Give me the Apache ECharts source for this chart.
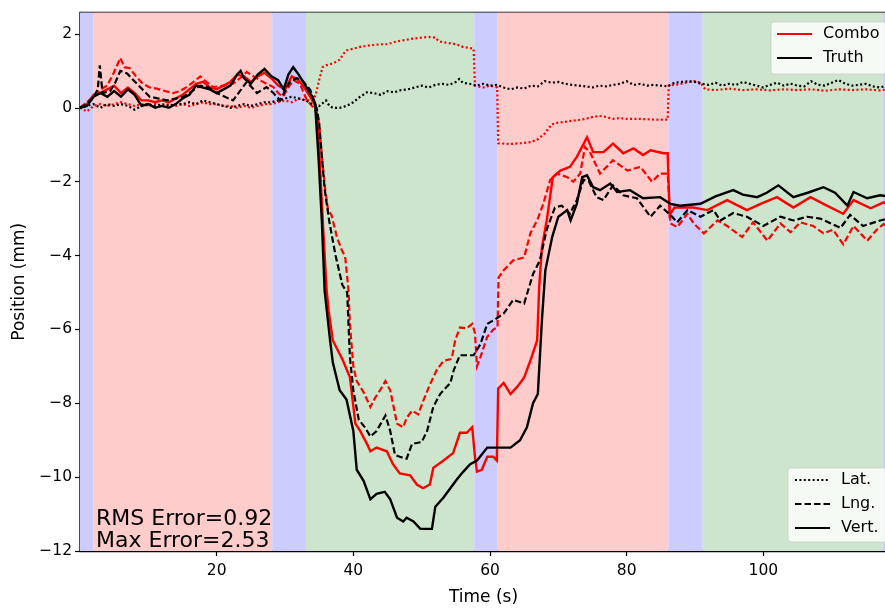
<!DOCTYPE html>
<html><head><meta charset="utf-8">
<script src="https://cdn.jsdelivr.net/npm/echarts@6/dist/echarts.min.js"></script>
<style>html,body{margin:0;padding:0;background:#fff}#c{width:885px;height:608px}</style>
</head><body><div id="c"></div>
<script>
// Background phases: [start, end, kind]
const phases = [[0,1.94,'b'],[1.94,28.14,'r'],[28.14,33.07,'b'],[33.07,57.7,'g'],[57.7,61.13,'b'],[61.13,86.1,'r'],[86.1,91.13,'b'],[91.13,117.48,'g'],[117.48,118.2,'b']];
const phaseColors = {r:'rgb(255,204,204)', b:'rgb(204,204,255)', g:'rgb(204,229,204)'};
const xTicks = [20, 40, 60, 80, 100];
const yTicks = [-12, -10, -8, -6, -4, -2, 0, 2];

// Combo (red) series: [time s, position mm]
const comboLat = [[0,0],[1,-0.1],[2,0.05],[3,0.1],[4,0.05],[5,0.1],[6,0.15],[7,0.1],[8,0.05],[9,0.1],[10,0.05],[11,0.1],[12,0.05],[13,0.1],[14,0.05],[15,0.1],[16,0.05],[17,0.1],[18,0.15],[19,0.1],[20,0.1],[21,0.05],[22,0.05],[23,0.0],[24,0.05],[25,0.0],[26,0.05],[27,0.1],[28,0.1],[29,0.15],[30,0.2],[31,0.15],[32,0.25],[33,0.2],[34,0.2],[34.5,0.35],[35,0.75],[35.5,1.1],[36,1.15],[37,1.2],[38,1.3],[38.5,1.45],[39,1.55],[40,1.6],[41,1.65],[42,1.68],[43,1.7],[44,1.72],[45,1.72],[46,1.78],[47,1.82],[48,1.85],[49,1.88],[50,1.9],[51,1.92],[52,1.9],[52.5,1.8],[53,1.78],[54,1.75],[55,1.72],[56,1.65],[57,1.62],[57.6,1.6],[57.8,0.6],[59,0.55],[60,0.6],[61.05,0.55],[61.2,-0.96],[63,-0.98],[65,-0.95],[66,-0.93],[67,-0.85],[68,-0.7],[69,-0.45],[70,-0.4],[71,-0.38],[72,-0.35],[73,-0.33],[74,-0.3],[75,-0.25],[76,-0.22],[77,-0.25],[78,-0.3],[79,-0.28],[80,-0.3],[82,-0.3],[84,-0.32],[86,-0.32],[86.15,0.6],[87,0.62],[88,0.65],[89,0.7],[90,0.72],[90.8,0.68],[91.5,0.5],[93,0.48],[95,0.52],[97,0.48],[99,0.5],[101,0.47],[103,0.5],[105,0.48],[107,0.5],[109,0.46],[111,0.5],[113,0.48],[115,0.5],[117,0.47],[118.2,0.5]];
const comboLng = [[0,0],[1,0.15],[2,0.3],[3,0.5],[4,0.6],[4.9,0.93],[5.9,1.35],[6.5,1.1],[7.3,1.07],[8.2,0.85],[9.2,0.65],[10.2,0.55],[11.2,0.52],[12.5,0.45],[13.6,0.4],[14.6,0.45],[15.6,0.56],[16.6,0.7],[17.6,0.85],[18.5,0.7],[19.5,0.56],[21,0.6],[22.4,0.65],[23.4,0.8],[24.4,0.97],[25.4,0.85],[26.3,0.75],[27.3,0.65],[28.3,0.56],[29,0.4],[29.7,0.3],[30.5,0.55],[31.2,0.75],[32.2,0.65],[33.2,0.2],[34.1,0.02],[34.7,-0.15],[35,-0.45],[35.4,-1.33],[35.9,-2.23],[36.3,-2.77],[36.8,-2.9],[37.6,-3.5],[38.3,-3.85],[38.8,-4.03],[39.3,-4.95],[39.5,-5.85],[40,-7.0],[40.5,-7.4],[41.5,-7.7],[42.5,-8.1],[43.2,-7.85],[43.9,-7.65],[44.7,-7.4],[45.4,-7.65],[46.4,-8.55],[47.3,-8.65],[47.8,-8.4],[48.6,-8.2],[49.5,-8.3],[50.2,-7.95],[51.2,-7.5],[52.2,-7.1],[53.2,-6.85],[54.4,-6.8],[54.9,-6.3],[55.6,-5.95],[56.6,-5.97],[57.4,-5.85],[57.8,-6.1],[58.1,-7.0],[58.6,-6.75],[59.6,-6.2],[60.5,-6.0],[61.1,-5.95],[61.25,-4.6],[62,-4.4],[63.4,-4.13],[65,-4.05],[65.9,-3.4],[66.9,-3.05],[67.8,-2.6],[68.8,-1.96],[69.8,-1.78],[71.3,-1.88],[72.2,-2.0],[73.2,-1.78],[73.9,-1.06],[74.7,-1.23],[76.1,-1.78],[78,-1.42],[80.1,-1.7],[82,-1.6],[83.7,-2.0],[84.9,-1.78],[86,-1.78],[86.4,-3.13],[87.4,-3.23],[88.9,-2.87],[89.8,-3.13],[91.3,-3.4],[93.3,-3.05],[94.7,-3.2],[96.9,-3.5],[98.5,-3.1],[100.6,-3.6],[102.5,-3.13],[104,-3.37],[105.4,-3.1],[107.3,-3.2],[108.8,-3.4],[110.2,-3.3],[111.7,-3.7],[113.2,-3.2],[115.2,-3.6],[116.6,-3.3],[117.6,-3.15],[118.2,-3.2]];
const comboVert = [[0,0],[1,0.1],[2,0.35],[3,0.4],[4,0.5],[5,0.6],[6,0.4],[7,0.55],[8,0.4],[9,0.2],[10,0.2],[11,0.15],[12,0.2],[13,0.15],[14,0.25],[15,0.35],[16,0.5],[17,0.65],[18,0.7],[19,0.55],[20,0.5],[21,0.6],[22,0.7],[23,0.9],[24,0.85],[25,0.7],[26,0.85],[27,0.95],[28,0.8],[29,0.6],[30,0.5],[31,0.85],[32,0.75],[33,0.5],[34,0.2],[34.6,0.0],[35.1,-1.5],[35.6,-3.3],[36.1,-4.95],[36.4,-5.5],[37,-6.3],[38.5,-6.85],[39.5,-7.3],[40.3,-8.55],[41,-8.75],[42,-9.1],[42.5,-9.3],[43.4,-9.2],[44.9,-9.3],[45.8,-9.65],[46.8,-9.9],[48.3,-9.95],[49.3,-10.2],[50.2,-10.3],[51.2,-10.2],[51.7,-9.75],[53.2,-9.55],[54.6,-9.35],[55.6,-8.8],[56.6,-8.8],[57.4,-8.65],[57.8,-9.45],[58.1,-9.85],[58.8,-9.8],[59.6,-9.45],[60.5,-9.45],[61,-9.55],[61.2,-7.6],[62,-7.45],[63,-7.75],[64,-7.55],[65,-7.3],[65.9,-6.85],[66.9,-6.3],[67.2,-4.85],[67.6,-3.78],[68.3,-3.05],[69.2,-1.88],[70.3,-1.7],[71.7,-1.6],[72.7,-1.33],[74.2,-0.8],[75.1,-1.2],[76.6,-1.2],[78,-0.97],[79.5,-1.23],[81,-1.1],[82.4,-1.28],[83.5,-1.15],[85.4,-1.23],[86,-1.23],[86.3,-2.9],[87,-2.7],[89.7,-2.7],[91.8,-2.77],[94.7,-2.5],[97.6,-2.77],[99.6,-2.6],[102,-2.42],[104.4,-2.7],[106.9,-2.42],[109.3,-2.65],[111.7,-2.87],[113.2,-2.5],[115.7,-2.72],[117.6,-2.56],[118.2,-2.6]];

// Truth (black) series
const truthLat = [[0,0],[1,0.05],[2,0.1],[3,0.0],[4,0.1],[5,0.05],[6,0.1],[7,0.05],[8,-0.05],[9,0.05],[10,0.1],[11,0.05],[12,0.1],[13,0.05],[14,0.1],[15,0.1],[16,0.15],[17,0.1],[18,0.2],[19,0.15],[20,0.1],[21,0.05],[22,0.0],[23,0.05],[24,0.1],[25,0.05],[26,0.1],[27,0.15],[28,0.15],[29,0.2],[30,0.25],[31,0.3],[32,0.25],[33,0.2],[34,0.1],[35,0.05],[36,0.2],[36.5,0.05],[37,0.0],[38,0.0],[39,0.05],[40,0.15],[41,0.3],[42,0.42],[43,0.4],[44,0.35],[45,0.45],[46,0.42],[47,0.48],[48,0.5],[49,0.55],[50,0.6],[51,0.55],[52,0.62],[53,0.65],[54,0.62],[55,0.7],[55.5,0.78],[56,0.68],[57,0.65],[58,0.6],[59,0.65],[60,0.6],[61,0.62],[62,0.55],[63,0.5],[64,0.55],[65,0.52],[66,0.6],[67,0.58],[68,0.72],[69,0.68],[70,0.7],[71,0.65],[72,0.62],[73,0.6],[74,0.58],[75,0.55],[76,0.6],[77,0.58],[78,0.62],[79,0.65],[80,0.72],[81,0.62],[82,0.65],[83,0.6],[84,0.62],[85,0.6],[86,0.58],[87,0.68],[88,0.7],[89,0.72],[90,0.7],[91,0.65],[92,0.62],[93,0.68],[94,0.6],[95,0.65],[96,0.62],[97,0.7],[98,0.65],[99,0.6],[100,0.55],[101,0.62],[102,0.68],[103,0.6],[104,0.65],[105,0.6],[106,0.58],[107,0.72],[108,0.62],[109,0.6],[110,0.68],[111,0.75],[112,0.65],[113,0.6],[114,0.62],[115,0.65],[116,0.58],[117,0.55],[118.2,0.6]];
const truthLng = [[0,0],[1,0.1],[2,0.3],[2.6,0.5],[2.9,1.15],[3.3,0.4],[4.4,0.45],[5.2,0.7],[5.9,1.0],[6.9,0.93],[7.8,0.75],[8.8,0.56],[10.2,0.3],[11.5,0.25],[12.7,0.2],[14,0.25],[15.1,0.3],[16.4,0.45],[17.6,0.6],[18.8,0.55],[20,0.4],[21.2,0.3],[22.4,0.2],[23.4,0.45],[24.4,0.7],[25.9,0.4],[27.3,0.56],[28.3,0.4],[29.3,0.2],[30.7,0.7],[31.7,0.8],[32.5,0.75],[33.7,0.48],[34.2,0.2],[34.7,-0.06],[35.0,-0.42],[35.4,-1.33],[35.8,-2.2],[36.5,-3.1],[37.4,-4.0],[38.4,-4.8],[39.1,-5.0],[39.5,-6.75],[40,-7.65],[40.8,-8.45],[41.7,-8.65],[42.5,-8.9],[43.4,-8.75],[44.7,-8.33],[45.4,-8.75],[46.1,-9.4],[46.8,-9.45],[47.8,-9.5],[48.6,-9.1],[50,-9.05],[50.8,-8.75],[51.7,-8.1],[52.7,-7.75],[54.2,-7.45],[54.7,-7.1],[55.6,-6.7],[57.6,-6.7],[58.6,-6.4],[59.6,-5.85],[61,-5.7],[62,-5.57],[63.4,-5.2],[65,-5.3],[66.3,-4.5],[67.3,-4.13],[68.3,-3.3],[69.5,-2.7],[70.5,-2.65],[71.7,-2.87],[72.7,-2.5],[73.7,-1.95],[74.5,-2.0],[75.6,-2.42],[76.6,-2.5],[78,-2.1],[79.5,-2.37],[81.5,-2.45],[83.5,-2.95],[84.9,-2.65],[86.4,-2.9],[87.4,-3.1],[88.9,-2.77],[90.8,-2.95],[92.7,-2.77],[93.7,-3.05],[95.6,-2.85],[97.6,-2.95],[100,-3.2],[102.5,-2.95],[104.4,-3.05],[106.4,-2.95],[108.3,-3.0],[111.3,-3.25],[112.7,-2.9],[114.6,-3.2],[117.1,-3.05],[118.2,-3.0]];
const truthVert = [[0,0],[1,0.05],[2,0.3],[3,0.4],[4,0.3],[5,0.45],[6,0.3],[7,0.5],[8,0.35],[9,0.05],[10,0.1],[11,0.0],[12,0.05],[13,0.0],[14,0.1],[15,0.25],[16,0.35],[17,0.6],[18,0.55],[19,0.5],[20,0.4],[21,0.5],[22,0.6],[23,0.9],[23.5,1.0],[24,0.8],[25,0.65],[26,0.9],[27,1.05],[28,0.85],[29,0.75],[29.8,0.5],[30.5,0.9],[31.2,1.1],[32,0.9],[33,0.6],[34,0.3],[34.4,0.12],[34.9,-1.33],[35.4,-3.1],[35.8,-4.95],[36.6,-6.3],[37,-6.9],[38,-7.65],[39,-7.9],[40,-8.75],[40.5,-9.8],[41.5,-10.1],[42.5,-10.6],[43.4,-10.45],[44.6,-10.4],[45.4,-10.6],[46.4,-11.1],[47.3,-11.2],[47.8,-11.1],[48.8,-11.2],[49.8,-11.4],[50.8,-11.4],[51.5,-11.4],[52,-10.8],[53.2,-10.55],[54.2,-10.3],[55.2,-10.05],[56.1,-9.85],[57.1,-9.65],[58.1,-9.55],[59.6,-9.2],[61,-9.2],[63,-9.2],[64.4,-9.0],[65.4,-8.65],[66.3,-8.0],[67,-7.75],[67.6,-5.75],[68.1,-4.4],[69.1,-3.5],[70,-2.95],[71.3,-2.77],[71.8,-3.05],[72.7,-2.6],[73.5,-1.88],[74.2,-1.83],[75.1,-2.15],[76.1,-2.23],[77.6,-2.05],[78.6,-2.28],[80.5,-2.23],[82.4,-2.45],[84.9,-2.42],[86.4,-2.6],[87.8,-2.65],[90.8,-2.6],[93,-2.4],[95.6,-2.23],[97,-2.35],[99.1,-2.42],[100.5,-2.3],[102.2,-2.1],[104.4,-2.42],[106.5,-2.3],[108.8,-2.15],[110.5,-2.3],[112.3,-2.65],[113.2,-2.28],[115.2,-2.45],[117.1,-2.37],[118.2,-2.4]];

const errorTexts = ['RMS Error=0.92', 'Max Error=2.53'];

const FONT = 'DejaVu Sans';
const DOT = [2, 2.4], DASH = [6.5, 3];
const chart = echarts.init(document.getElementById('c'), null, {renderer: 'canvas'});
function line(name, data, color, type, width, z) {
  return {name, type: 'line', data, symbol: 'none', showSymbol: false, silent: true, animation: false, z,
    lineStyle: {color, type, width, cap: 'butt', join: 'miter'}, itemStyle: {color}};
}
const minus = v => (Math.abs(v) < 1e-9 ? '0' : (v < 0 ? '\u2212' + Math.abs(v) : String(v)));
const bandSeries = {type: 'line', data: [[0, 0]], symbol: 'none', silent: true, z: 1, lineStyle: {width: 0}, animation: false,
  markArea: {silent: true, z: 1, data: phases.map(p => [{xAxis: p[0], itemStyle: {color: phaseColors[p[2]], opacity: 1}}, {xAxis: p[1]}])}};
const legendBox = {orient: 'vertical', itemWidth: 35, itemHeight: 16, itemGap: 8, backgroundColor: 'rgba(255,255,255,0.8)',
  borderColor: 'rgba(204,204,204,0.8)', borderWidth: 1, borderRadius: 3, selectedMode: false,
  itemStyle: {opacity: 0},
  textStyle: {fontFamily: FONT, fontSize: 16, color: '#000', padding: [0, 0, 0, 6]}};
chart.setOption({
  animation: false,
  grid: {left: 80, right: -2, top: 12.5, bottom: 57, outerBoundsMode: 'none', show: true, borderColor: '#000', borderWidth: 1.3, backgroundColor: 'transparent'},
  xAxis: {type: 'value', min: 0, max: 118.1, name: 'Time (s)', nameLocation: 'middle', nameGap: 38,
    nameTextStyle: {fontFamily: FONT, fontSize: 17, color: '#000'},
    axisLine: {show: true, onZero: false, lineStyle: {color: '#000', width: 1.3}},
    axisTick: {show: true, inside: false, length: 5, customValues: xTicks, lineStyle: {color: '#000', width: 1.2}},
    axisLabel: {fontFamily: FONT, fontSize: 15.5, color: '#000', margin: 12, customValues: xTicks, formatter: minus},
    splitLine: {show: false}},
  yAxis: {type: 'value', min: -12, max: 2.58, name: 'Position (mm)', nameLocation: 'middle', nameGap: 52,
    nameTextStyle: {fontFamily: FONT, fontSize: 17, color: '#000'},
    axisLine: {show: true, onZero: false, lineStyle: {color: '#000', width: 1.3}},
    axisTick: {show: true, inside: false, length: 5, customValues: yTicks, lineStyle: {color: '#000', width: 1.2}},
    axisLabel: {show: false},
    splitLine: {show: false}},
  legend: [
    Object.assign({}, legendBox, {data: ['Combo', 'Truth'], left: 771, top: 22, padding: [4, 30, 8, 5]}),
    Object.assign({}, legendBox, {data: ['Lat.', 'Lng.', 'Vert.'], left: 788, top: 468, padding: [4, 30, 6, 6]})
  ],
  series: [
    bandSeries,
    line('Combo Lat', comboLat, '#ff0000', DOT, 2.2, 3),
    line('Combo Lng', comboLng, '#ff0000', DASH, 2.2, 3),
    line('Combo Vert', comboVert, '#ff0000', 'solid', 2.4, 3),
    line('Truth Lat', truthLat, '#000000', DOT, 2.2, 4),
    line('Truth Lng', truthLng, '#000000', DASH, 2.2, 4),
    line('Truth Vert', truthVert, '#000000', 'solid', 2.4, 4),
    line('Combo', [], '#ff0000', 'solid', 2.4, 4),
    line('Truth', [], '#000000', 'solid', 2.4, 4),
    line('Lat.', [], '#000000', DOT, 2.2, 4),
    line('Lng.', [], '#000000', DASH, 2.2, 4),
    line('Vert.', [], '#000000', 'solid', 2.4, 4)
  ]
});
// Y tick labels placed through the library's own y scale
const yLabelEls = yTicks.map(v => {
  const p = chart.convertToPixel({xAxisIndex: 0, yAxisIndex: 0}, [0, v]);
  return {type: 'text', z: 100, x: p[0] - 8, y: p[1],
    style: {text: minus(v), fill: '#000', font: '15.5px "DejaVu Sans"', verticalAlign: 'middle', align: 'right'}};
});
const errEls = errorTexts.map((t, i) => ({type: 'text', z: 100, x: 96, y: 519.5 + i * 21.5,
  style: {text: t, fill: '#000', font: '22px "DejaVu Sans"', verticalAlign: 'middle', align: 'left'}}));
chart.setOption({graphic: yLabelEls.concat(errEls)});
</script></body></html>
